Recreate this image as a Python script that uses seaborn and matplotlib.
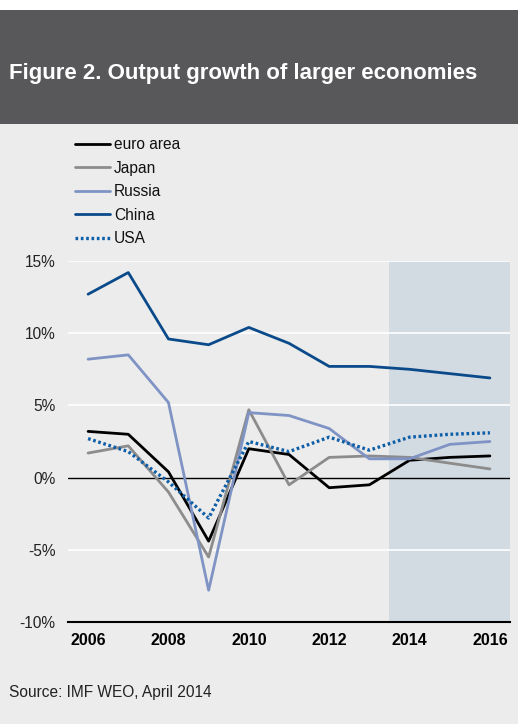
import matplotlib
matplotlib.use("Agg")
import matplotlib.pyplot as plt
import matplotlib.patches as mpatches
from matplotlib.lines import Line2D
import seaborn as sns
import pandas as pd
import numpy as np

years = list(range(2006, 2017))
euro_area = [3.2, 3.0, 0.4, -4.4, 2.0, 1.6, -0.7, -0.5, 1.2, 1.4, 1.5]
japan = [1.7, 2.2, -1.0, -5.5, 4.7, -0.5, 1.4, 1.5, 1.4, 1.0, 0.6]
russia = [8.2, 8.5, 5.2, -7.8, 4.5, 4.3, 3.4, 1.3, 1.3, 2.3, 2.5]
china = [12.7, 14.2, 9.6, 9.2, 10.4, 9.3, 7.7, 7.7, 7.5, 7.2, 6.9]
usa = [2.7, 1.8, -0.3, -2.8, 2.5, 1.8, 2.8, 1.9, 2.8, 3.0, 3.1]
series_names = ["euro area", "Japan", "Russia", "China", "USA"]
series_values = [euro_area, japan, russia, china, usa]
colors = ["#000000", "#8c8c8c", "#7f93c5", "#0b4a8a", "#0f5ea8"]
styles = ["-", "-", "-", "-", (0, (0.8, 0.8))]
widths = [2.0, 2.0, 2.0, 2.0, 2.4]
y_ticks = [-10, -5, 0, 5, 10, 15]
y_labels = ["-10%", "-5%", "0%", "5%", "10%", "15%"]
x_label_years = [2006, 2008, 2010, 2012, 2014, 2016]
forecast_start = 2014
title = "Figure 2. Output growth of larger economies"
source = "Source: IMF WEO, April 2014"

df = pd.DataFrame({"year": years * len(series_names),
                   "value": sum(series_values, []),
                   "series": sum([[n] * len(years) for n in series_names], [])})

sns.set_style("white")
plt.rcParams['font.family'] = ['Liberation Sans', 'DejaVu Sans']

bg = "#ebeceb"
fig = plt.figure(figsize=(5.18, 7.24), dpi=100, facecolor=bg)
# header
fig.patches.append(mpatches.Rectangle((0, 1 - 10 / 724), 1, 10 / 724, transform=fig.transFigure,
                                      facecolor="white", edgecolor="none", zorder=0))
fig.patches.append(mpatches.Rectangle((0, 1 - 124 / 724), 1, 114 / 724, transform=fig.transFigure,
                                      facecolor="#58585a", edgecolor="none", zorder=0))
fig.text(9 / 518, 1 - 73 / 724, title, color="white", fontsize=16, fontweight="bold",
         va="center", ha="left")
fig.text(9 / 518, 1 - 692 / 724, source, color="#222222", fontsize=11.2, va="center", ha="left")

ax = fig.add_axes([68 / 518, 1 - 622 / 724, 442 / 518, 361 / 724])
ax.set_facecolor(bg)
ax.axvspan(forecast_start - 0.5, years[-1] + 0.5, color="#d3dbe2", zorder=0, lw=0)
for t in [-5, 5, 10, 15]:
    ax.axhline(t, color="white", lw=1.2, zorder=1)
ax.axhline(0, color="black", lw=1, zorder=2)

for name, c, ls, w in zip(series_names, colors, styles, widths):
    sns.lineplot(data=df[df.series == name], x="year", y="value", ax=ax, color=c,
                 linestyle=ls, lw=w, zorder=3, legend=False)

ax.set_xlim(years[0] - 0.5, years[-1] + 0.5)
ax.set_ylim(-10, 15)
ax.set_yticks(y_ticks)
ax.set_yticklabels(y_labels)
ax.set_xticks(x_label_years)
ax.set_xticklabels([str(y) for y in x_label_years], fontweight="bold")
ax.set_xticks(np.arange(years[0] - 0.5, years[-1] + 1.0, 1.0), minor=True)
ax.tick_params(axis="x", which="major", length=0, labelsize=11.5, pad=8, colors="black")
ax.tick_params(axis="x", which="minor", direction="in", length=5, width=1.2, color="black")
ax.tick_params(axis="y", length=0, labelsize=11.2, pad=9, labelcolor="#222222")
ax.set_xlabel("")
ax.set_ylabel("")
for s in ["top", "right", "left"]:
    ax.spines[s].set_visible(False)
ax.spines["bottom"].set_color("black")
ax.spines["bottom"].set_linewidth(1.5)

handles = [Line2D([0], [0], color=c, linestyle=ls, lw=w)
           for c, ls, w in zip(colors, styles, widths)]
leg = fig.legend(handles, series_names, loc="upper left",
                 bbox_to_anchor=(69 / 518, 1 - 131 / 724), frameon=False,
                 fontsize=11.2, handlelength=2.25, handletextpad=0.25, labelspacing=0.55,
                 borderaxespad=0)
for t in leg.get_texts():
    t.set_color("#111111")

fig.savefig("out.png", dpi=100, facecolor=bg)
